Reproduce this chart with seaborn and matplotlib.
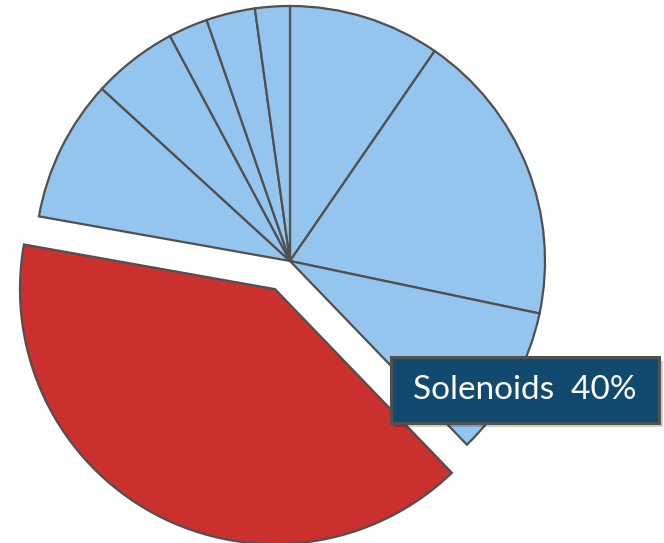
import matplotlib
matplotlib.use("Agg")
import matplotlib.pyplot as plt
import matplotlib.patches as mpatches
import seaborn as sns

# slice shares in %, clockwise from 12 o'clock
labels = ["A", "B", "C", "Solenoids", "E", "F", "G", "H", "I"]
shares = [9.6, 18.7, 9.5, 40.0, 9.0, 5.4, 2.5, 3.1, 2.2]
highlight = "Solenoids"

sns.set_theme(style="white")
plt.rcParams['font.family'] = ['Lato', 'DejaVu Sans']

BLUE = "#94C5EE"
RED = "#C9302E"
colors = [RED if l == highlight else BLUE for l in labels]
explode = [0.125 if l == highlight else 0 for l in labels]

W, H = 664, 543
fig = plt.figure(figsize=(W / 100, H / 100), dpi=100)
ax = fig.add_axes([0, 0, 1, 1])

ax.pie(shares, colors=colors, explode=explode, startangle=90,
       counterclock=False, radius=1,
       wedgeprops=dict(edgecolor="#505050", linewidth=1.6))

# center of pie at pixel (290, 261), radius 255 px
cx, cy, r = 290, 261, 255
ax.set_xlim(-cx / r, (W - cx) / r)
ax.set_ylim(-(H - cy) / r, cy / r)
ax.set_aspect("auto")
ax.axis("off")

# callout box (pixel coords -> figure fraction)
x0, x1, y0, y1 = 391, 659, 357, 423
sh = mpatches.Rectangle(((x0 + 4) / W, 1 - (y1 + 4) / H), (x1 - x0) / W, (y1 - y0) / H,
                        transform=fig.transFigure, facecolor="#000000", alpha=0.18,
                        edgecolor="none")
fig.patches.append(sh)
box = mpatches.Rectangle((x0 / W, 1 - y1 / H), (x1 - x0) / W, (y1 - y0) / H,
                         transform=fig.transFigure, facecolor="#124A6F",
                         edgecolor="#505050", linewidth=2.2)
fig.patches.append(box)
idx = labels.index(highlight)
fig.text((x0 + x1) / 2 / W, 1 - (y0 + y1) / 2 / H, f"{highlight}  {shares[idx]:.0f}%",
         color="white", fontsize=24, ha="center", va="center")

fig.savefig("out.png", dpi=100)
